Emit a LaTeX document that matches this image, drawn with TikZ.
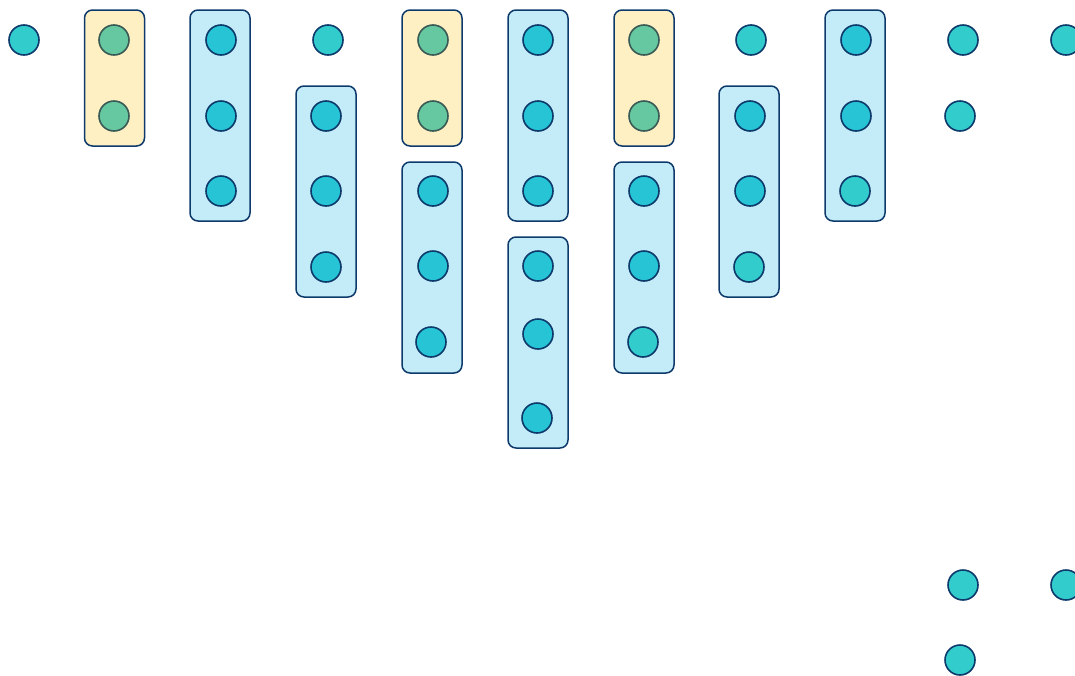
\documentclass[tikz,border=0pt]{standalone}
\definecolor{strk}{HTML}{0D3A6B}
\definecolor{teal1}{HTML}{33CCCC}
\definecolor{cyan1}{HTML}{26C4D4}
\definecolor{green1}{HTML}{66C8A0}
\definecolor{gstrk}{HTML}{3A5A55}
\definecolor{ybox}{HTML}{FFF0C4}
\definecolor{bbox}{HTML}{C4ECF8}
\begin{document}
\begin{tikzpicture}[x=1pt,y=-1pt,
  dot/.style={circle,draw=strk,line width=1.6pt,minimum size=30pt,inner sep=0pt},
  tdot/.style={dot,fill=teal1},
  cdot/.style={dot,fill=cyan1},
  gdot/.style={dot,fill=green1,draw=gstrk},
  ycont/.style={draw=strk,fill=ybox,rounded corners=8pt,line width=1.5pt,minimum width=60pt,minimum height=136pt,inner sep=0pt},
  bcont/.style={draw=strk,fill=bbox,rounded corners=8pt,line width=1.5pt,minimum width=60pt,minimum height=211pt,inner sep=0pt}]
\useasboundingbox (0,0) rectangle (1075,675);
% containers
\node[ycont] (y1) at (114.5,78) {};
\node[bcont] (b1) at (220,115.5) {};
\node[bcont] (b2) at (326,191.5) {};
\node[ycont] (y2) at (432,78) {};
\node[bcont] (b3) at (432,267.5) {};
\node[bcont] (b4) at (538,115.5) {};
\node[bcont] (b5) at (538,342.5) {};
\node[ycont] (y3) at (644,78) {};
\node[bcont] (b6) at (644,267.5) {};
\node[bcont] (b7) at (749,191.5) {};
\node[bcont] (b8) at (855,115.5) {};
% dots
\node[tdot] (c1) at (24,40) {};
\node[gdot] (g1) at (114,40) {};
\node[gdot] (g2) at (114,116) {};
\node[cdot] (d1) at (221,40) {};
\node[cdot] (d2) at (221,116) {};
\node[cdot] (d3) at (221,191) {};
\node[tdot] (c2) at (328,40) {};
\node[cdot] (d4) at (326,116) {};
\node[cdot] (d5) at (326,191) {};
\node[cdot] (d6) at (326,267) {};
\node[gdot] (g3) at (433,40) {};
\node[gdot] (g4) at (433,116) {};
\node[cdot] (d7) at (433,191) {};
\node[cdot] (d8) at (433,266) {};
\node[cdot] (d9) at (431,342) {};
\node[cdot] (d10) at (538,40) {};
\node[cdot] (d11) at (538,116) {};
\node[cdot] (d12) at (538,191) {};
\node[cdot] (d13) at (538,266) {};
\node[cdot] (d14) at (538,334) {};
\node[cdot] (d15) at (537,418) {};
\node[gdot] (g5) at (644,40) {};
\node[gdot] (g6) at (644,116) {};
\node[cdot] (d16) at (644,191) {};
\node[cdot] (d17) at (644,266) {};
\node[tdot] (c3) at (643,342) {};
\node[tdot] (c4) at (751,40) {};
\node[cdot] (d18) at (750,116) {};
\node[cdot] (d19) at (750,191) {};
\node[tdot] (c5) at (749,267) {};
\node[cdot] (d20) at (856,40) {};
\node[cdot] (d21) at (856,116) {};
\node[tdot] (c6) at (855,191) {};
\node[tdot] (c7) at (963,40) {};
\node[tdot] (c8) at (960,116) {};
\node[tdot] (c9) at (963,585) {};
\node[tdot] (c10) at (960,660) {};
\node[tdot] (c11) at (1066,40) {};
\node[tdot] (c12) at (1066,585) {};
\end{tikzpicture}
\end{document}
